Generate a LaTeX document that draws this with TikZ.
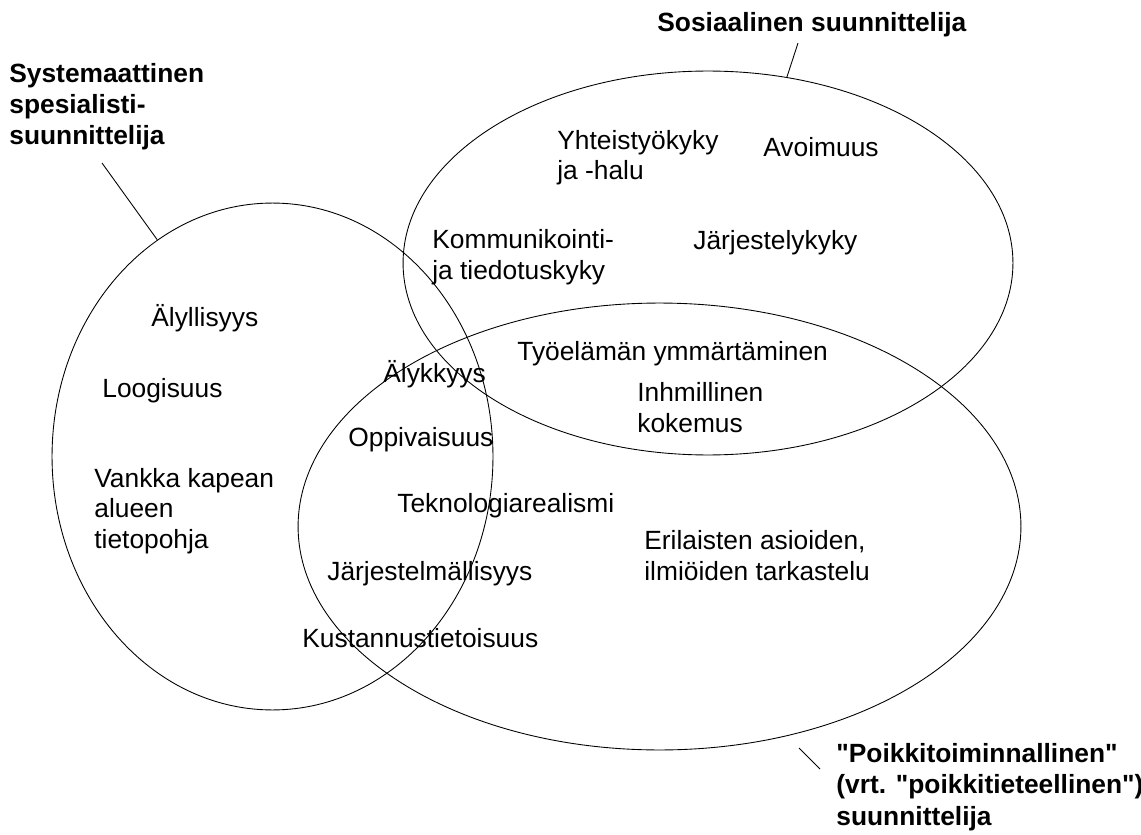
\documentclass[tikz,border=0pt]{standalone}
\usepackage{fontspec}
\setmainfont{Liberation Sans}[Ligatures=TeXOff]
\usepackage{tikz}
\usetikzlibrary{shapes.geometric}
% multi-line nodes are placed by the baseline of their last line
\tikzstyle{trait} = [anchor=base west, inner sep=0pt, align=left, font=\fontsize{15}{17.1}\selectfont]
\tikzstyle{role} = [trait, font=\fontsize{15}{17.9}\selectfont\bfseries]
\tikzstyle{group} = [ellipse, draw=black, line width=0.5pt, inner sep=0pt]
\tikzstyle{leader} = [line width=0.5pt]

\begin{document}
\begin{tikzpicture}[x=0.02cm, y=-0.02cm]
	\useasboundingbox (0,0) rectangle (1141,834);
	% the three groups
	\node (sys) [group, minimum width=8.82cm, minimum height=10.14cm] at (272.5,456.5) {};
	\node (sos) [group, minimum width=12.2cm, minimum height=7.68cm] at (708,263) {};
	\node (poik) [group, minimum width=14.46cm, minimum height=8.94cm] at (659.5,526.5) {};
	% names of the groups
	\node (syslabel) [role] at (9,145) {Systemaattinen\\spesialisti-\\suunnittelija};
	\node (soslabel) [role] at (657,32) {Sosiaalinen suunnittelija};
	\node (poiklabel) [role] at (836,825) {"Poikkitoiminnallinen"\\(vrt. "poikkitieteellinen")\\suunnittelija};
	\coordinate (sysend) at (102,163);
	\coordinate (sosend) at (798,43);
	\coordinate (poikend) at (799,748);
	\coordinate (poiktip) at (820,769);
	\draw[leader] (sysend) -- (sys.118);
	\draw[leader] (sosend) -- (sos.67);
	\draw[leader] (poikend) -- (poiktip);
	% traits
	\node (alyllisyys) [trait] at (151,326) {Älyllisyys};
	\node (loogisuus) [trait] at (102,397) {Loogisuus};
	\node (tietopohja) [trait] at (94,548) {Vankka kapean\\alueen\\tietopohja};
	\node (alykkyys) [trait] at (383,382) {Älykkyys};
	\node (oppivaisuus) [trait] at (348,446) {Oppivaisuus};
	\node (teknologia) [trait] at (397,512) {Teknologiarealismi};
	\node (jarjestelmallisyys) [trait] at (327,580) {Järjestelmällisyys};
	\node (kustannus) [trait] at (302,647) {Kustannustietoisuus};
	\node (yhteistyo) [trait] at (557,180) {Yhteistyökyky\\ja -halu};
	\node (avoimuus) [trait] at (763,157) {Avoimuus};
	\node (kommunikointi) [trait] at (432,279) {Kommunikointi-\\ja tiedotuskyky};
	\node (jarjestely) [trait] at (693,250) {Järjestelykyky};
	\node (tyoelama) [trait] at (517,360) {Työelämän ymmärtäminen};
	\node (kokemus) [trait] at (637,432) {Inhmillinen\\kokemus};
	\node (tarkastelu) [trait] at (644,580) {Erilaisten asioiden,\\ilmiöiden tarkastelu};
\end{tikzpicture}
\end{document}
